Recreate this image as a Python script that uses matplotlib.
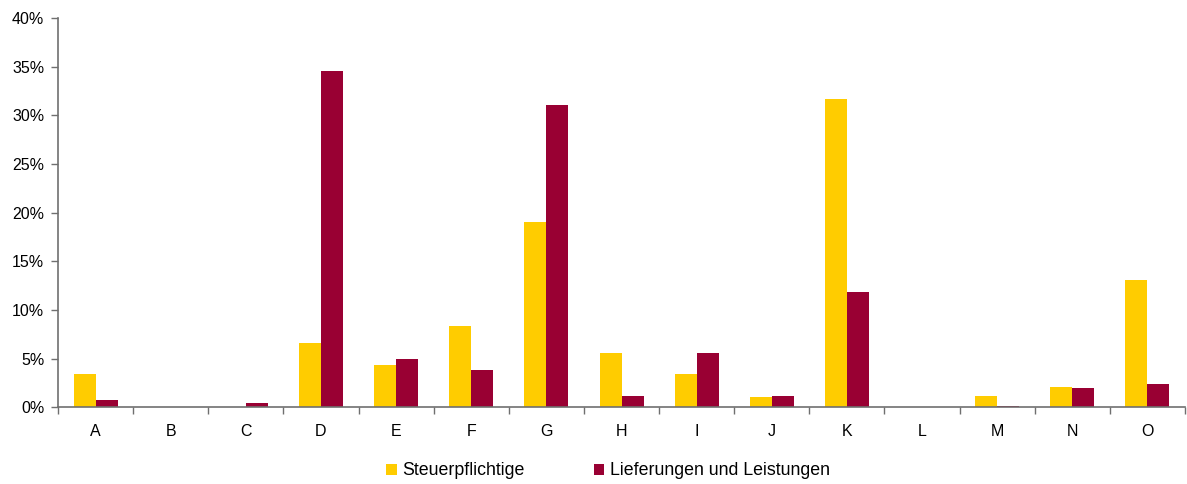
import numpy as np
import matplotlib
matplotlib.use("Agg")
import matplotlib.pyplot as plt
from matplotlib.ticker import FuncFormatter, FixedLocator

categories = ["A", "B", "C", "D", "E", "F", "G", "H", "I", "J", "K", "L", "M", "N", "O"]
steuerpflichtige = [3.42, 0.03, 0.03, 6.6, 4.35, 8.36, 19.05, 5.59, 3.42, 1.06, 31.69, 0.0, 1.16, 2.09, 13.08]
lieferungen = [0.75, 0.0, 0.44, 34.6, 4.97, 3.83, 31.07, 1.16, 5.59, 1.16, 11.85, 0.0, 0.13, 1.98, 2.4]
y_ticks = [0, 5, 10, 15, 20, 25, 30, 35, 40]

plt.rcParams["font.family"] = ["Liberation Sans", "DejaVu Sans"]

YELLOW = "#FFCC00"
RED = "#990033"
AXIS = "#6f6f6f"

fig = plt.figure(figsize=(11.87, 4.84), dpi=100)
ax = fig.add_axes([0.0489, 0.1585, 0.9494, 0.8043])

x = np.arange(len(categories))
w = 0.293
ax.bar(x - w / 2, steuerpflichtige, width=w, color=YELLOW, label="Steuerpflichtige")
ax.bar(x + w / 2, lieferungen, width=w, color=RED, label="Lieferungen und Leistungen")

ax.set_xlim(-0.5, len(categories) - 0.5)
ax.set_ylim(0, 40)
ax.set_yticks(y_ticks)
ax.yaxis.set_major_formatter(FuncFormatter(lambda v, _: f"{v:.0f}%"))
ax.set_xticks(x)
ax.set_xticklabels(categories)
ax.xaxis.set_minor_locator(FixedLocator(np.arange(len(categories) + 1) - 0.5))

for side in ("top", "right"):
    ax.spines[side].set_visible(False)
for side in ("left", "bottom"):
    ax.spines[side].set_color(AXIS)
    ax.spines[side].set_linewidth(1.2)

ax.tick_params(axis="y", length=5, width=1.0, color=AXIS, labelsize=11.5, pad=5)
ax.tick_params(axis="x", which="major", length=0, labelsize=11.5, pad=12)
ax.tick_params(axis="x", which="minor", length=5, width=1.0, color=AXIS)

fig.legend(loc="center", bbox_to_anchor=(0.512, 0.027), ncol=2, frameon=False,
           fontsize=12.8, handlelength=0.6, handleheight=0.6, handletextpad=0.3,
           columnspacing=3.9)

fig.savefig("out.png", dpi=100)
